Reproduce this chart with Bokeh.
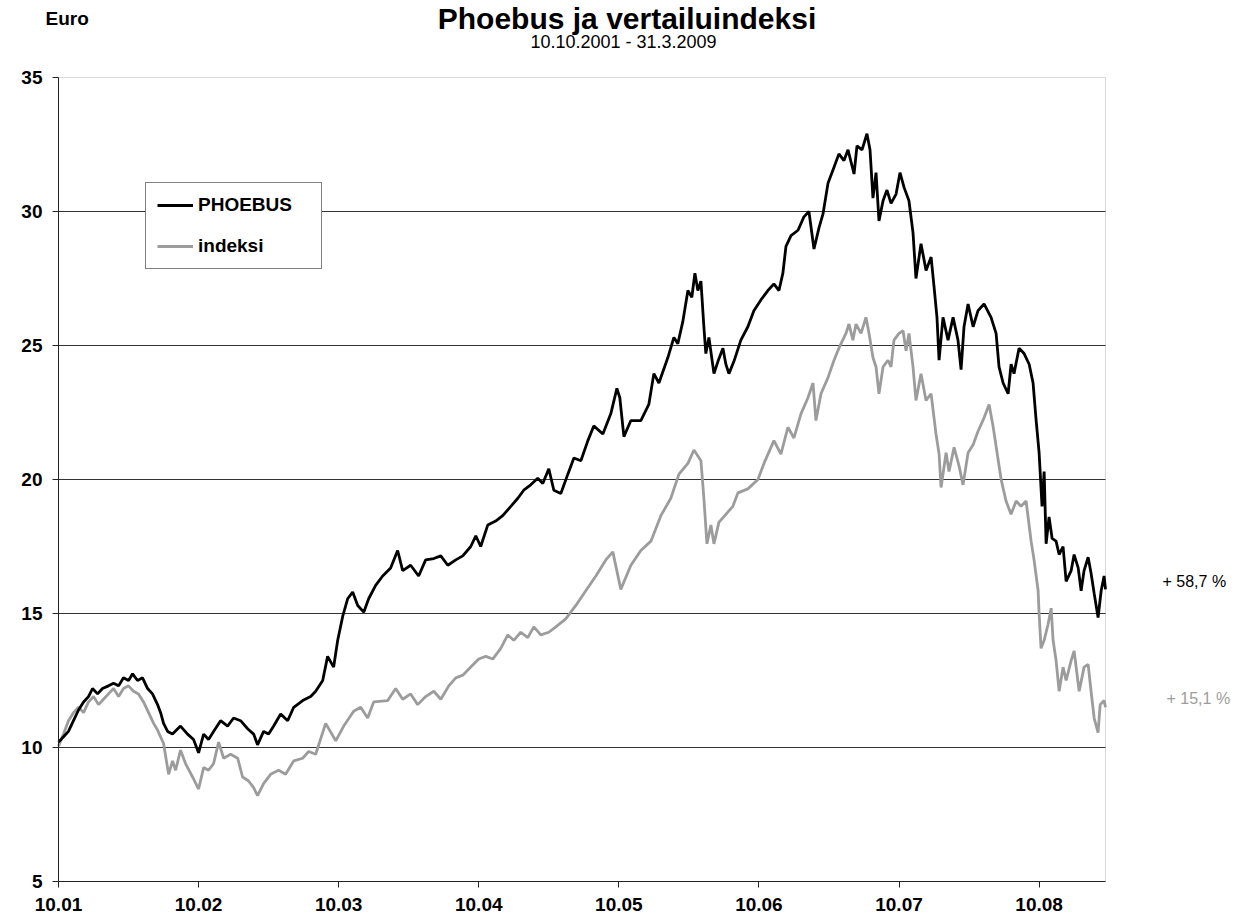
from bokeh.plotting import figure
from bokeh.models import Range1d, FixedTicker, Label, Legend, LegendItem, BoxAnnotation
from bokeh.embed import file_html
from bokeh.resources import INLINE

# time in years since 10.10.2001
phoebus_t = [0.000, 0.036, 0.071, 0.107, 0.143, 0.179, 0.214, 0.243, 0.279, 0.314, 0.357, 0.393, 0.429, 0.464,
             0.500, 0.529, 0.564, 0.600, 0.636, 0.671, 0.707, 0.729, 0.750, 0.779, 0.814, 0.871, 0.921, 0.964,
             1.000, 1.036, 1.071, 1.107, 1.157, 1.207, 1.250, 1.300, 1.350, 1.393, 1.421, 1.464, 1.500, 1.536,
             1.586, 1.636, 1.679, 1.743, 1.800, 1.836, 1.886, 1.921, 1.964, 1.993, 2.029, 2.064, 2.100, 2.136,
             2.179, 2.214, 2.264, 2.314, 2.371, 2.421, 2.457, 2.514, 2.571, 2.621, 2.679, 2.729, 2.779, 2.836,
             2.886, 2.943, 2.979, 3.014, 3.064, 3.121, 3.171, 3.229, 3.279, 3.321, 3.371, 3.421, 3.457, 3.500,
             3.536, 3.586, 3.636, 3.679, 3.729, 3.779, 3.821, 3.886, 3.943, 3.986, 4.007, 4.036, 4.086, 4.157,
             4.214, 4.250, 4.286, 4.350, 4.393, 4.421, 4.457, 4.493, 4.521, 4.543, 4.564, 4.586, 4.607, 4.621,
             4.643, 4.679, 4.707, 4.743, 4.764, 4.786, 4.821, 4.871, 4.921, 4.964, 5.014, 5.064, 5.107, 5.143,
             5.171, 5.193, 5.229, 5.279, 5.321, 5.357, 5.393, 5.429, 5.457, 5.493, 5.536, 5.571, 5.607, 5.636,
             5.679, 5.700, 5.736, 5.771, 5.793, 5.814, 5.836, 5.857, 5.886, 5.914, 5.943, 5.979, 6.007, 6.036,
             6.071, 6.100, 6.121, 6.157, 6.193, 6.229, 6.250, 6.271, 6.286, 6.314, 6.350, 6.386, 6.421, 6.443,
             6.464, 6.493, 6.529, 6.564, 6.607, 6.657, 6.693, 6.714, 6.743, 6.779, 6.800, 6.821, 6.857, 6.893,
             6.929, 6.957, 6.979, 7.000, 7.021, 7.036, 7.050, 7.071, 7.093, 7.121, 7.143, 7.171, 7.193, 7.229,
             7.250, 7.279, 7.300, 7.321, 7.350, 7.371, 7.393, 7.421, 7.443, 7.464, 7.474]
phoebus_v = [10.2, 10.4, 10.6, 11.0, 11.4, 11.7, 11.9, 12.2, 12.0, 12.2, 12.3, 12.4, 12.3, 12.6,
             12.5, 12.75, 12.5, 12.6, 12.2, 12.0, 11.6, 11.3, 10.9, 10.6, 10.5, 10.8, 10.5, 10.3,
             9.8, 10.5, 10.3, 10.6, 11.0, 10.8, 11.1, 11.0, 10.7, 10.5, 10.1, 10.6, 10.5, 10.8,
             11.25, 11.0, 11.5, 11.75, 11.9, 12.1, 12.5, 13.4, 13.0, 14.0, 14.9, 15.55, 15.8, 15.3,
             15.05, 15.55, 16.05, 16.4, 16.7, 17.35, 16.6, 16.8, 16.4, 17.0, 17.05, 17.15, 16.8, 17.0,
             17.15, 17.5, 17.9, 17.5, 18.3, 18.45, 18.65, 19.0, 19.3, 19.6, 19.8, 20.05, 19.85, 20.4,
             19.6, 19.48, 20.2, 20.8, 20.7, 21.45, 22.0, 21.7, 22.46, 23.4, 23.05, 21.6, 22.2, 22.2,
             22.8, 23.95, 23.6, 24.55, 25.3, 25.07, 25.9, 27.05, 26.8, 27.7, 27.05, 27.4, 25.7, 24.7,
             25.3, 23.95, 24.4, 24.9, 24.3, 23.95, 24.4, 25.2, 25.7, 26.3, 26.7, 27.05, 27.3, 27.05,
             27.7, 28.7, 29.1, 29.3, 29.8, 30.0, 28.6, 29.4, 29.9, 31.05, 31.65, 32.15, 31.9, 32.3,
             31.4, 32.45, 32.3, 32.9, 32.3, 30.5, 31.45, 29.65, 30.4, 30.8, 30.3, 30.65, 31.45, 30.9,
             30.4, 29.2, 27.5, 28.8, 27.8, 28.3, 27.2, 26.05, 24.45, 26.05, 25.2, 26.05, 25.2, 24.1,
             25.7, 26.55, 25.7, 26.3, 26.55, 26.05, 25.45, 24.2, 23.6, 23.2, 24.3, 23.95, 24.9, 24.7,
             24.3, 23.6, 22.2, 21.0, 19.0, 20.3, 17.6, 18.6, 17.8, 17.7, 17.2, 17.5, 16.2, 16.6,
             17.2, 16.7, 15.85, 16.6, 17.1, 16.5, 15.75, 14.85, 15.85, 16.4, 15.9]

index_t = [0.000, 0.036, 0.071, 0.107, 0.143, 0.179, 0.214, 0.250, 0.286, 0.321, 0.357, 0.393, 0.429, 0.464,
           0.500, 0.536, 0.571, 0.607, 0.643, 0.679, 0.707, 0.750, 0.786, 0.814, 0.836, 0.871, 0.907, 0.957,
           1.000, 1.036, 1.071, 1.107, 1.143, 1.179, 1.229, 1.279, 1.314, 1.357, 1.393, 1.421, 1.464, 1.514,
           1.571, 1.621, 1.679, 1.743, 1.786, 1.836, 1.907, 1.979, 2.036, 2.107, 2.157, 2.207, 2.250, 2.350,
           2.407, 2.457, 2.514, 2.564, 2.621, 2.679, 2.729, 2.786, 2.836, 2.886, 2.943, 3.000, 3.050, 3.100,
           3.157, 3.207, 3.250, 3.300, 3.350, 3.393, 3.443, 3.500, 3.550, 3.621, 3.693, 3.764, 3.836, 3.907,
           3.957, 4.014, 4.086, 4.157, 4.229, 4.300, 4.371, 4.429, 4.493, 4.536, 4.586, 4.607, 4.629, 4.657,
           4.679, 4.714, 4.764, 4.814, 4.850, 4.921, 4.993, 5.036, 5.107, 5.157, 5.207, 5.250, 5.300, 5.350,
           5.386, 5.407, 5.443, 5.493, 5.536, 5.571, 5.621, 5.643, 5.671, 5.693, 5.729, 5.764, 5.786, 5.814,
           5.836, 5.857, 5.886, 5.921, 5.943, 5.964, 6.000, 6.029, 6.050, 6.071, 6.100, 6.121, 6.157, 6.193,
           6.229, 6.264, 6.286, 6.300, 6.336, 6.357, 6.393, 6.429, 6.457, 6.493, 6.529, 6.564, 6.607, 6.643,
           6.671, 6.700, 6.729, 6.764, 6.800, 6.836, 6.871, 6.907, 6.943, 6.964, 6.993, 7.000, 7.014, 7.036,
           7.064, 7.086, 7.100, 7.121, 7.143, 7.171, 7.193, 7.229, 7.250, 7.286, 7.321, 7.350, 7.371, 7.393,
           7.421, 7.436, 7.464, 7.474]
index_v = [10.05, 10.5, 11.0, 11.3, 11.5, 11.3, 11.7, 11.9, 11.6, 11.8, 12.0, 12.2, 11.9, 12.2,
           12.3, 12.1, 12.0, 11.7, 11.3, 10.9, 10.65, 10.15, 9.0, 9.5, 9.15, 9.9, 9.4, 8.9,
           8.45, 9.25, 9.15, 9.4, 10.2, 9.6, 9.75, 9.6, 8.9, 8.75, 8.5, 8.2, 8.65, 9.0,
           9.15, 9.0, 9.5, 9.6, 9.85, 9.75, 10.9, 10.25, 10.8, 11.35, 11.5, 11.1, 11.7, 11.75,
           12.2, 11.8, 12.0, 11.6, 11.9, 12.1, 11.8, 12.3, 12.6, 12.7, 13.0, 13.3, 13.4, 13.3,
           13.7, 14.2, 14.0, 14.3, 14.1, 14.5, 14.2, 14.3, 14.5, 14.8, 15.3, 15.85, 16.4, 17.0,
           17.3, 15.9, 16.8, 17.35, 17.7, 18.65, 19.3, 20.2, 20.6, 21.1, 20.7, 19.3, 17.6, 18.3,
           17.6, 18.4, 18.7, 19.0, 19.5, 19.65, 20.0, 20.6, 21.45, 20.95, 21.95, 21.55, 22.45, 23.05,
           23.6, 22.2, 23.2, 23.8, 24.45, 24.9, 25.45, 25.8, 25.2, 25.8, 25.45, 26.05, 25.45, 24.55,
           24.2, 23.2, 24.2, 24.45, 24.2, 25.2, 25.45, 25.55, 24.8, 25.45, 24.2, 22.95, 23.95, 22.95,
           23.2, 21.7, 20.95, 19.7, 21.0, 20.3, 21.2, 20.5, 19.8, 21.0, 21.3, 21.8, 22.3, 22.8,
           22.0, 21.0, 20.0, 19.2, 18.7, 19.2, 19.0, 19.2, 17.7, 17.0, 15.85, 15.0, 13.7, 14.0,
           14.6, 15.2, 14.0, 13.25, 12.1, 13.0, 12.5, 13.25, 13.6, 12.1, 13.0, 13.1, 12.1, 11.1,
           10.55, 11.6, 11.75, 11.5]

tick_pos = [0, 1, 2, 3, 4, 5, 6, 7]
tick_labels = ["10.01", "10.02", "10.03", "10.04", "10.05", "10.06", "10.07", "10.08"]
y_ticks = [5, 10, 15, 20, 25, 30, 35]
grid_ticks = [10, 15, 20, 25, 30]
t_end = 7.474
y_min, y_max = 5, 35

FONT = "Liberation Sans"
W, H = 1235, 922
FL, FT, FR, FB = 58, 77, 1105, 881            # plot area in canvas pixels
ppx = (FR - FL) / t_end                      # pixels per year
ppy = (FB - FT) / (y_max - y_min)            # pixels per euro

def dx(px):
    return (px - FL) / ppx

def dy(py):
    return y_max + (FT - py) / ppy

p = figure(width=W, height=H, output_backend="svg", toolbar_location=None,
           x_range=Range1d(dx(0), dx(W)), y_range=Range1d(dy(H), dy(0)),
           min_border=0, min_border_left=0, min_border_right=0, min_border_top=0, min_border_bottom=0)
p.background_fill_color = "white"
p.border_fill_color = "white"
p.outline_line_color = None
p.grid.visible = False

p.xaxis.fixed_location = y_min
p.yaxis.fixed_location = 0
p.xaxis.bounds = (0, t_end)
p.yaxis.bounds = (y_min, y_max)
p.xaxis.ticker = FixedTicker(ticks=tick_pos)
p.xaxis.major_label_overrides = {k: v for k, v in zip(tick_pos, tick_labels)}
p.yaxis.ticker = FixedTicker(ticks=y_ticks)
for ax in (p.xaxis, p.yaxis):
    ax.axis_line_color = "#222222"
    ax.axis_line_width = 1
    ax.major_tick_line_color = "#222222"
    ax.major_tick_out = 6
    ax.major_tick_in = 0
    ax.minor_tick_line_color = None
    ax.major_label_text_font = FONT
    ax.major_label_text_font_style = "bold"
    ax.major_label_text_font_size = "19px"
    ax.major_label_text_color = "black"
p.xaxis.major_label_standoff = 10
p.yaxis.major_label_standoff = 10

# horizontal grid lines inside the plot area
p.segment(x0=[0] * len(grid_ticks), x1=[t_end] * len(grid_ticks), y0=grid_ticks, y1=grid_ticks,
          line_color="#333333", line_width=1)
# plot-area border (top / right in gray)
p.add_layout(BoxAnnotation(left=0, right=t_end, bottom=y_min, top=y_max, fill_alpha=0,
                           line_color="#808080", line_width=1, level="underlay"))

r_idx = p.line(index_t, index_v, line_color="#9c9c9c", line_width=2.8)
r_ph = p.line(phoebus_t, phoebus_v, line_color="black", line_width=2.8)

legend = Legend(items=[LegendItem(label="PHOEBUS", renderers=[r_ph]),
                       LegendItem(label="indeksi", renderers=[r_idx])],
                location=(145, H - 269), padding=11, spacing=19, margin=0,
                glyph_width=36, glyph_height=20, label_height=20, label_width=112,
                label_standoff=5,
                label_text_font=FONT, label_text_font_style="bold", label_text_font_size="19px",
                label_text_color="black",
                border_line_color="black", border_line_width=1, background_fill_color="white",
                background_fill_alpha=1.0)
p.add_layout(legend, "center")

def base(py, size):
    # rendered alphabetic baseline sits about 0.36 em lower than requested
    return dy(py - 0.36 * size)

p.add_layout(Label(x=dx(626.5), y=base(29, 30), text="Phoebus ja vertailuindeksi", text_align="center",
                   text_baseline="alphabetic", text_font=FONT, text_font_style="bold",
                   text_font_size="30px", text_color="black"))
p.add_layout(Label(x=dx(623), y=base(48, 18), text="10.10.2001 - 31.3.2009", text_align="center",
                   text_baseline="alphabetic", text_font=FONT, text_font_size="18px", text_color="black"))
p.add_layout(Label(x=dx(45), y=base(25, 19), text="Euro", text_align="left",
                   text_baseline="alphabetic", text_font=FONT, text_font_style="bold",
                   text_font_size="19px", text_color="black"))
p.add_layout(Label(x=dx(1162), y=base(587, 16), text="+ 58,7 %", text_align="left",
                   text_baseline="alphabetic", text_font=FONT, text_font_size="16px", text_color="black"))
p.add_layout(Label(x=dx(1166), y=base(704, 16), text="+ 15,1 %", text_align="left",
                   text_baseline="alphabetic", text_font=FONT, text_font_size="16px", text_color="#9c9c9c"))

open("out.html", "w").write(file_html(p, INLINE))
